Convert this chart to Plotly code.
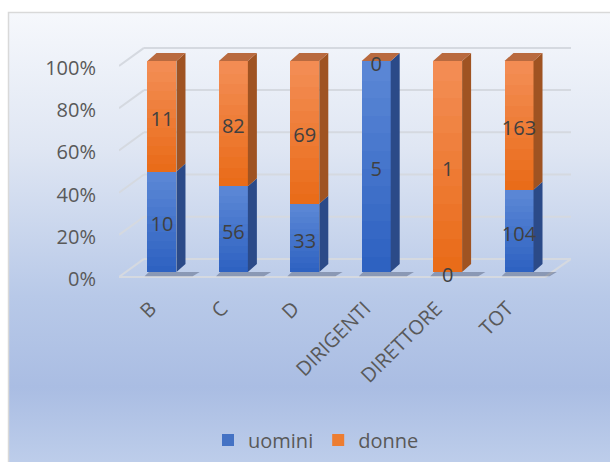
import base64
import plotly.graph_objects as go

# ---------------- data ----------------
categories = ["B", "C", "D", "DIRIGENTI", "DIRETTORE", "TOT"]
uomini = [10, 56, 33, 5, 0, 104]
donne = [11, 82, 69, 0, 1, 163]
y_ticks = [0, 20, 40, 60, 80, 100]
y_ticktext = ["0%", "20%", "40%", "60%", "80%", "100%"]

# ---------------- geometry / style ----------------
W, H = 610, 462
L, R, T, B = 119, 39, 40, 180
PW, PH = W - L - R, H - T - B
XR = [-0.602, 5.728]
YR = [-4.74, 109.95]
BAR_W = 0.406
DX, DY = 0.126, 3.8          # 3-D depth in data units
LABEL_OFF = -3.3             # y-label offset (front plane)
FRONT_OFF = -2.4             # front edge of side wall
BACK_OFF = 6.2               # back wall gridlines
X_FRONT0, X_BACK0 = -0.602, -0.252
X_FRONT1, X_BACK1 = 5.364, 5.728
TEXT_SHIFT = -2.2
XTICK_SHIFT = -0.16
NSL = 12                     # gradient slices
OVL = 1.0                    # slice overlap

BLUE_TOP, BLUE_BOT = (92, 136, 214), (44, 96, 192)
OR_TOP, OR_BOT = (243, 142, 86), (233, 106, 22)
BLUE_SIDE, ORANGE_SIDE = "#2b4a88", "#9f5322"
ORANGE_TOP = "#b96a3f"
BLUE_LEG, ORANGE_LEG = "#4472c4", "#ed7d31"
GRID = "#d5d9e0"
TXT = "#595959"
FONT = "Open Sans"

x_idx = list(range(len(categories)))
tot = [u + d for u, d in zip(uomini, donne)]
pu = [u / t * 100 for u, t in zip(uomini, tot)]
pdn = [d / t * 100 for d, t in zip(donne, tot)]
ptop = [a + b for a, b in zip(pu, pdn)]


def mix(c1, c2, f):
    return "rgb(%d,%d,%d)" % tuple(round(a + (b - a) * f) for a, b in zip(c1, c2))


fig = go.Figure()

# legend carriers (front faces, flat colour)
fig.add_trace(go.Bar(x=x_idx, y=pu, width=BAR_W, name="uomini",
                     marker=dict(color=BLUE_LEG, line=dict(width=0))))
fig.add_trace(go.Bar(x=x_idx, y=pdn, base=pu, width=BAR_W, name="donne",
                     marker=dict(color=ORANGE_LEG, line=dict(width=0))))

# gradient front faces: each segment split into NSL slices
for bases, tops, ctop, cbot in [([0] * len(pu), pu, BLUE_TOP, BLUE_BOT),
                                (pu, ptop, OR_TOP, OR_BOT)]:
    for k in range(NSL):
        sb, sh = [], []
        for b0, t0 in zip(bases, tops):
            h = t0 - b0
            lo = b0 + h * k / NSL
            hi = b0 + h * (k + 1) / NSL
            if k > 0 and h > 0:
                lo = max(b0, lo - OVL)
            sb.append(lo)
            sh.append(hi - lo)
        f = 1 - (k + 0.5) / NSL
        fig.add_trace(go.Bar(x=x_idx, y=sh, base=sb, width=BAR_W,
                             marker=dict(color=mix(ctop, cbot, f), line=dict(width=0)),
                             hoverinfo="skip", showlegend=False))

# shadows at the base
sx, sy = [], []
for i in x_idx:
    xl = i - BAR_W / 2
    xr = i + BAR_W / 2
    sx += [xl + 0.02, xr + DX + 0.2, xr + DX + 0.1, xl - 0.04, xl + 0.02, None]
    sy += [0, 0, -2.0, -2.0, 0, None]
fig.add_trace(go.Scatter(x=sx, y=sy, mode="lines", fill="toself",
                         fillcolor="rgba(20,30,60,0.30)", line=dict(width=0),
                         hoverinfo="skip", showlegend=False))

# side faces
for bases, tops, col in [([0] * len(pu), pu, BLUE_SIDE), (pu, ptop, ORANGE_SIDE)]:
    xs, ys = [], []
    for i, b0, t0 in zip(x_idx, bases, tops):
        if t0 - b0 <= 0:
            continue
        xr = i + BAR_W / 2
        xs += [xr, xr + DX, xr + DX, xr, xr, None]
        ys += [b0, b0 + DY, t0 + DY, t0, b0, None]
    fig.add_trace(go.Scatter(x=xs, y=ys, mode="lines", fill="toself",
                             fillcolor=col, line=dict(width=0),
                             hoverinfo="skip", showlegend=False))

# top faces
tx, ty = [], []
for i, top in zip(x_idx, ptop):
    xl, xr = i - BAR_W / 2, i + BAR_W / 2
    tx += [xl, xl + DX, xr + DX, xr, xl, None]
    ty += [top, top + DY, top + DY, top, top, None]
fig.add_trace(go.Scatter(x=tx, y=ty, mode="lines", fill="toself",
                         fillcolor=ORANGE_TOP, line=dict(width=0),
                         hoverinfo="skip", showlegend=False))

# data labels
fig.add_trace(go.Scatter(x=x_idx, y=[p / 2 + TEXT_SHIFT for p in pu], mode="text",
                         text=[str(v) for v in uomini], cliponaxis=False,
                         textfont=dict(family=FONT, size=20, color="#404040"),
                         hoverinfo="skip", showlegend=False))
fig.add_trace(go.Scatter(x=x_idx, y=[a + b / 2 + TEXT_SHIFT for a, b in zip(pu, pdn)],
                         mode="text", text=[str(v) for v in donne],
                         cliponaxis=False,
                         textfont=dict(family=FONT, size=20, color="#404040"),
                         hoverinfo="skip", showlegend=False))

# wall gridlines + floor
shapes = []
for v in y_ticks:
    shapes.append(dict(type="line", xref="x", yref="y", layer="below",
                       x0=X_BACK0, x1=X_BACK1, y0=v + BACK_OFF, y1=v + BACK_OFF,
                       line=dict(color=GRID, width=2)))
    shapes.append(dict(type="line", xref="x", yref="y", layer="below",
                       x0=X_FRONT0, x1=X_BACK0, y0=v + FRONT_OFF, y1=v + BACK_OFF,
                       line=dict(color=GRID, width=2)))
shapes.append(dict(type="line", xref="x", yref="y", layer="below",
                   x0=X_FRONT0, x1=X_FRONT1, y0=FRONT_OFF, y1=FRONT_OFF,
                   line=dict(color=GRID, width=2)))
shapes.append(dict(type="line", xref="x", yref="y", layer="below",
                   x0=X_FRONT1, x1=X_BACK1, y0=FRONT_OFF, y1=BACK_OFF,
                   line=dict(color=GRID, width=2)))

# background: gradient chart area with border
svg = f"""<svg xmlns='http://www.w3.org/2000/svg' width='{W}' height='{H}' viewBox='0 0 {W} {H}'>
<defs><linearGradient id='g' gradientUnits='userSpaceOnUse' x1='0' y1='12' x2='0' y2='470'>
<stop offset='0' stop-color='#f6f8fc'/>
<stop offset='0.3' stop-color='#dfe6f3'/>
<stop offset='0.62' stop-color='#b8c9e8'/>
<stop offset='0.82' stop-color='#aabde3'/>
<stop offset='1' stop-color='#bfcfeb'/>
</linearGradient></defs>
<rect x='0' y='0' width='{W}' height='{H}' fill='white'/>
<rect x='8.5' y='12.5' width='700' height='600' fill='url(#g)' stroke='#d9d9d9' stroke-width='1.5'/>
</svg>"""
src = "data:image/svg+xml;base64," + base64.b64encode(svg.encode()).decode()

fig.update_layout(
    width=W, height=H,
    margin=dict(l=L, r=R, t=T, b=B, pad=0, autoexpand=False),
    paper_bgcolor="white", plot_bgcolor="rgba(0,0,0,0)",
    barmode="overlay", bargap=0,
    shapes=shapes,
    images=[dict(source=src, xref="paper", yref="paper",
                 x=-L / PW, y=(H - B) / PH, sizex=W / PW, sizey=H / PH,
                 xanchor="left", yanchor="top", sizing="stretch", layer="below")],
    font=dict(family=FONT, size=20, color=TXT),
    showlegend=True,
    legend=dict(orientation="h", x=(316 - L) / PW, xanchor="center",
                y=(H - B - 440) / PH, yanchor="middle",
                font=dict(family=FONT, size=20, color=TXT),
                bgcolor="rgba(0,0,0,0)", itemwidth=30, tracegroupgap=0),
    xaxis=dict(range=XR, tickvals=[i + XTICK_SHIFT for i in x_idx],
               ticktext=categories, tickangle=-45, automargin=False,
               showgrid=False, zeroline=False, showline=False, ticks="",
               ticklabelstandoff=10,
               tickfont=dict(family=FONT, size=20, color=TXT)),
    yaxis=dict(range=YR, tickvals=[v + LABEL_OFF for v in y_ticks],
               ticktext=y_ticktext, showgrid=False, zeroline=False, automargin=False,
               showline=False, ticks="", ticklabelstandoff=22,
               tickfont=dict(family=FONT, size=20, color=TXT)),
)

fig.write_html("out.html")
